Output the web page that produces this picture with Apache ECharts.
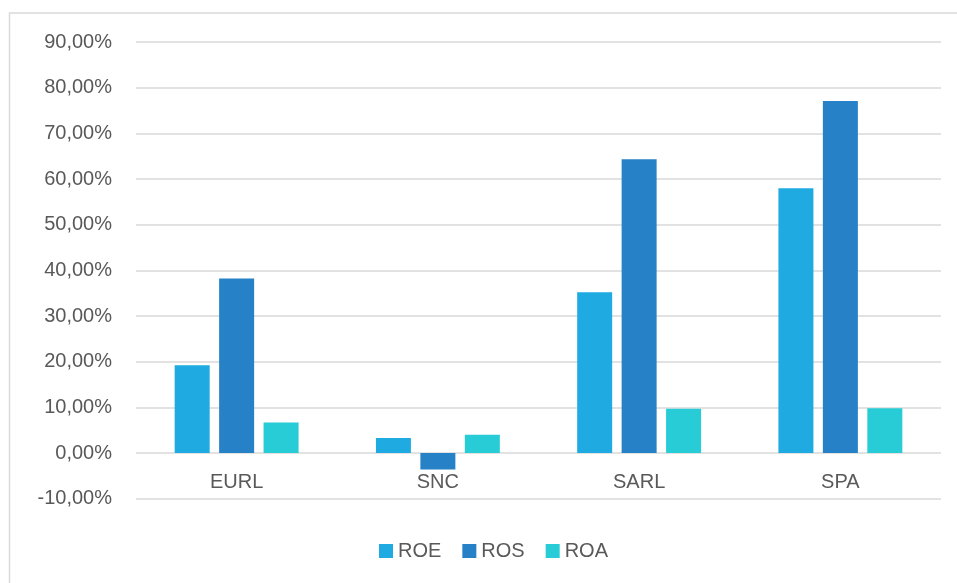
<!DOCTYPE html>
<html>
<head>
<meta charset="utf-8">
<script src="https://cdn.jsdelivr.net/npm/echarts@6/dist/echarts.min.js"></script>
<style>
html,body{margin:0;padding:0;background:#fff;}
#chart{width:957px;height:583px;}
</style>
</head>
<body>
<div id="chart"></div>
<script>
const categories = ['EURL', 'SNC', 'SARL', 'SPA'];
const roe = [19.2, 3.3, 35.2, 58.0];
const ros = [38.2, -3.6, 64.3, 77.1];
const roa = [6.7, 4.0, 9.7, 9.8];
const seriesNames = ['ROE', 'ROS', 'ROA'];
const colors = ['#1FABE2', '#2681C6', '#27CCD6'];

const fontFamily = 'Liberation Sans, Arial, sans-serif';
const textColor = '#595959';
const gridColor = '#d9d9d9';

function fmt(v) {
  return v.toFixed(2).replace('.', ',') + '%';
}

const chart = echarts.init(document.getElementById('chart'));
const values = [roe, ros, roa];
chart.setOption({
  animation: false,
  backgroundColor: '#fff',
  graphic: [{
    type: 'rect',
    shape: { x: 9.5, y: 13, width: 2000, height: 2000 },
    style: { fill: 'none', stroke: gridColor, lineWidth: 1.5 },
    silent: true
  }],
  grid: { left: 136, right: 16, top: 42, bottom: 84.3, containLabel: false },
  legend: {
    left: 374,
    top: 536,
    itemWidth: 14,
    itemHeight: 14,
    itemGap: 21,
    icon: 'rect',
    textStyle: { color: textColor, fontSize: 20, fontFamily: fontFamily },
    data: seriesNames
  },
  xAxis: {
    type: 'category',
    data: categories,
    axisLine: { show: false, onZero: false },
    axisTick: { show: false },
    axisLabel: { color: textColor, fontSize: 20, fontFamily: fontFamily, margin: -26 }
  },
  yAxis: {
    type: 'value',
    min: -10,
    max: 90,
    interval: 10,
    axisLine: { show: false },
    axisTick: { show: false },
    splitLine: { lineStyle: { color: gridColor, width: 1.5 } },
    axisLabel: { color: textColor, fontSize: 20, fontFamily: fontFamily, margin: 24, formatter: fmt }
  },
  series: seriesNames.map((name, i) => ({
    name: name,
    type: 'bar',
    data: values[i],
    barWidth: 35,
    barGap: '27%',
    itemStyle: { color: colors[i] }
  }))
});
</script>
</body>
</html>
